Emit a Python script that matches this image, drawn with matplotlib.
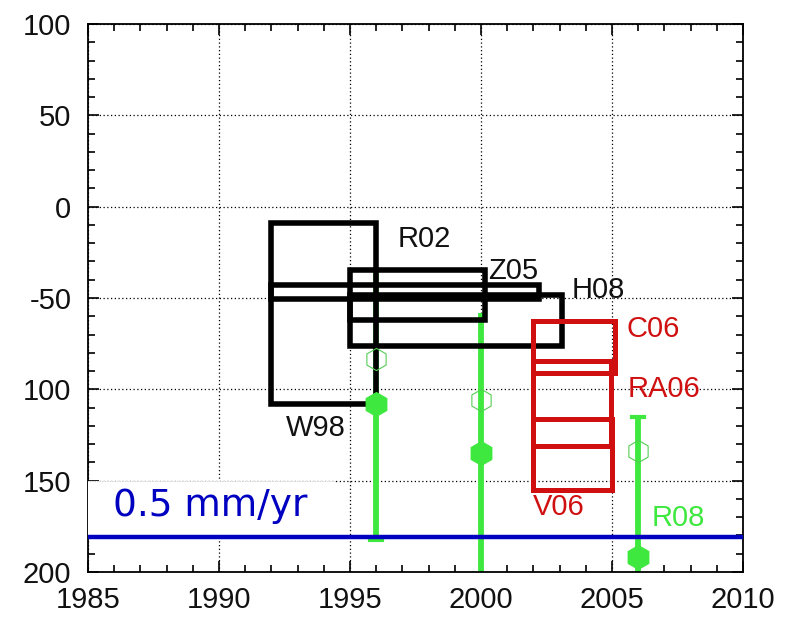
import matplotlib
matplotlib.use("Agg")
import matplotlib.pyplot as plt
from matplotlib.patches import Rectangle
from matplotlib.ticker import MultipleLocator

# ---------------- data ----------------
# black boxes (time span, value span)
black_x0 = [1992.0, 1992.0, 1995.0, 1995.0]
black_x1 = [1996.0, 2002.2, 2000.15, 2003.1]
black_y0 = [-9.0, -42.7, -34.5, -48.5]
black_y1 = [-108.0, -50.6, -62.3, -76.3]

# red boxes
red_x0 = [2002.0, 2002.0, 2002.0]
red_x1 = [2005.1, 2004.95, 2005.0]
red_y0 = [-62.6, -84.4, -116.0]
red_y1 = [-91.0, -130.8, -155.3]

# green estimates (R08)
green_x = [1996.0, 2000.0, 2006.0]
green_filled = [-108.0, -135.0, -192.0]
green_open = [-83.5, -106.0, -133.5]
green_top = [-35.0, -58.2, -114.9]
green_bottom = [-182.4, -205.0, -205.0]
green_top_cap = [False, False, True]
green_bottom_cap = [True, False, False]

# reference rate line
rate_value = -180.6
rate_label = "0.5 mm/yr"

# labels
box_labels = ["R02", "Z05", "H08", "W98"]
box_label_x = [1996.83, 2000.27, 2003.47, 1992.56]
box_label_y = [-17.7, -35.2, -45.6, -121.1]
red_labels = ["C06", "RA06", "V06"]
red_label_x = [2005.57, 2005.61, 2001.98]
red_label_y = [-66.9, -99.8, -164.4]
green_label = "R08"
green_label_x, green_label_y = 2006.53, -170.4

x_ticks = [1985, 1990, 1995, 2000, 2005, 2010]
y_ticks = [100, 50, 0, -50, -100, -150, -200]
y_ticklabels = ["100", "50", "0", "-50", "100", "150", "200"]

# ---------------- plot ----------------
BLACK = "#000000"
RED = "#d01010"
GREEN = "#3ee83e"
BLUE = "#0000c0"

fig = plt.figure(figsize=(7.94, 6.19), dpi=100)
ax = fig.add_axes([88/794, 1-572/619, (743-88)/794, (572-24)/619])
ax.set_xlim(1985, 2010)
ax.set_ylim(-200, 100)

ax.set_xticks(x_ticks)
ax.set_yticks(y_ticks)
ax.set_yticklabels(y_ticklabels)
ax.xaxis.set_minor_locator(MultipleLocator(1))
ax.yaxis.set_minor_locator(MultipleLocator(10))
ax.tick_params(which="both", direction="in", top=True, right=True,
               labelsize=21, width=1.2, colors="black")
ax.tick_params(which="major", length=8)
ax.tick_params(which="minor", length=5)
ax.tick_params(axis="y", pad=12)
ax.tick_params(axis="x", pad=10)
for lab in ax.get_xticklabels() + ax.get_yticklabels():
    lab.set_fontfamily("Liberation Sans")
    lab.set_color("#111111")
for sp in ax.spines.values():
    sp.set_linewidth(1.3)

ax.grid(True, which="major", color="black", linestyle=(0, (1, 2)), linewidth=0.9)
ax.set_axisbelow(True)

for x0, x1, y0, y1 in zip(black_x0, black_x1, black_y0, black_y1):
    ax.add_patch(Rectangle((x0, y1), x1 - x0, y0 - y1, fill=False,
                           edgecolor=BLACK, linewidth=4.0, joinstyle="miter", zorder=3))
for x0, x1, y0, y1 in zip(red_x0, red_x1, red_y0, red_y1):
    ax.add_patch(Rectangle((x0, y1), x1 - x0, y0 - y1, fill=False,
                           edgecolor=RED, linewidth=3.6, joinstyle="miter", zorder=3))

# green error bars
for x, top, bot, tc, bc in zip(green_x, green_top, green_bottom,
                               green_top_cap, green_bottom_cap):
    ax.plot([x, x], [bot, top], color=GREEN, linewidth=4.2, zorder=2.5,
            solid_capstyle="butt")
    for yv, cap in ((top, tc), (bot, bc)):
        if cap:
            ax.plot([x - 0.22, x + 0.22], [yv, yv], color=GREEN, linewidth=3.0, zorder=2.5)
ax.plot(green_x, green_filled, linestyle="none", marker="h", markersize=17,
        color=GREEN, markeredgecolor=GREEN, zorder=4)
ax.plot(green_x, green_open, linestyle="none", marker="h", markersize=16,
        markerfacecolor="none", markeredgecolor="#55cc55", markeredgewidth=0.8, zorder=4)

# white label box and rate line
ax.add_patch(Rectangle((1985.0, -180.8), 9.47, 30.7, facecolor="white",
                       edgecolor="none", linewidth=0, zorder=5))
ax.plot([1985.0, 1994.47], [-150.1, -150.1], color="#bbbbbb",
        linestyle=(0, (1, 1)), linewidth=0.6, zorder=5.5)
ax.axhline(rate_value, color=BLUE, linewidth=3.2, zorder=6)
ax.text(1985.95, -163.8, rate_label, color=BLUE, fontsize=27,
        family="DejaVu Sans", va="center", ha="left", zorder=7)

for t, x, y in zip(box_labels, box_label_x, box_label_y):
    ax.text(x, y, t, color="#111111", fontsize=21, family="Liberation Sans",
            va="center", ha="left", zorder=7)
for t, x, y in zip(red_labels, red_label_x, red_label_y):
    ax.text(x, y, t, color=RED, fontsize=21, family="Liberation Sans",
            va="center", ha="left", zorder=7)
ax.text(green_label_x, green_label_y, green_label, color=GREEN, fontsize=21,
        family="Liberation Sans", va="center", ha="left", zorder=7)

fig.savefig("out.png", dpi=100)
